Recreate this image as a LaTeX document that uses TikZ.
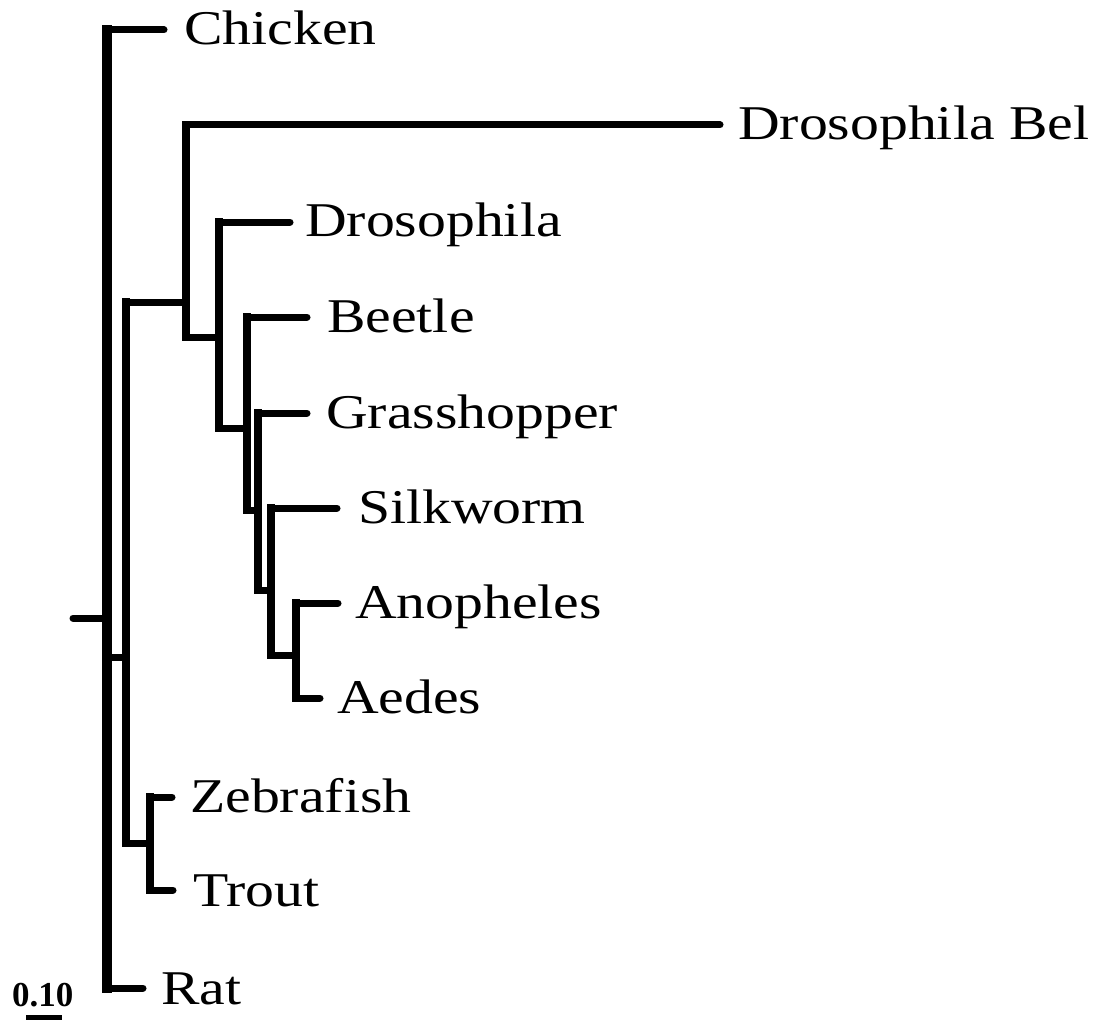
\documentclass[tikz,border=0pt]{standalone}
\usepackage{fontspec}
\setmainfont{Liberation Serif}
\newcommand\stretchlbl[1]{\scalebox{1.19}[1]{#1}}
\begin{document}
\begin{tikzpicture}[x=1pt,y=-1pt,
  vl/.style={line width=8.5pt, line cap=rect},
  mainvl/.style={line width=10pt, line cap=rect},
  hl/.style={line width=7pt, line cap=round},
  taxon/.style={anchor=base west, inner sep=0pt, font=\fontsize{48.5}{58}\selectfont}]
\useasboundingbox (0,0) rectangle (1099,1019);
% internal nodes
\coordinate (root) at (73,618);
\coordinate (n1) at (107,618);
\coordinate (n2) at (126,657);
\coordinate (n3) at (186,302);
\coordinate (n4) at (219,337);
\coordinate (n5) at (247,428);
\coordinate (n6) at (258,510);
\coordinate (n7) at (271,590);
\coordinate (n8) at (296,655);
\coordinate (n9) at (150,843);
% leaf branch ends
\coordinate (eChicken) at (164,30);
\coordinate (eDBel) at (720,125);
\coordinate (eDros) at (290,222);
\coordinate (eBeetle) at (307,317);
\coordinate (eGrass) at (307,413);
\coordinate (eSilk) at (337,508);
\coordinate (eAnoph) at (338,603);
\coordinate (eAedes) at (320,698);
\coordinate (eZebra) at (172,797);
\coordinate (eTrout) at (173,890);
\coordinate (eRat) at (143,988);
% labels
\node[taxon] (Chicken) at (184,45) {\stretchlbl{Chicken}};
\node[taxon] (DBel) at (738,140) {\stretchlbl{Drosophila Bel}};
\node[taxon] (Dros) at (305,236) {\stretchlbl{Drosophila}};
\node[taxon] (Beetle) at (327,332) {\stretchlbl{Beetle}};
\node[taxon] (Grass) at (326,428) {\stretchlbl{Grasshopper}};
\node[taxon] (Silk) at (358,523) {\stretchlbl{Silkworm}};
\node[taxon] (Anoph) at (355,618) {\stretchlbl{Anopheles}};
\node[taxon] (Aedes) at (337,713) {\stretchlbl{Aedes}};
\node[taxon] (Zebra) at (190,812) {\stretchlbl{Zebrafish}};
\node[taxon] (Trout) at (193,906) {\stretchlbl{Trout}};
\node[taxon] (Rat) at (161,1004) {\stretchlbl{Rat}};
% root
\draw[hl] (root) -- (n1);
% n1: Chicken, n2, Rat
\draw[mainvl] (n1 |- eChicken) -- (n1 |- eRat);
\draw[hl] (n1 |- eChicken) -- (eChicken);
\draw[hl] (n1 |- eRat) -- (eRat);
\draw[hl] (n1 |- n2) -- (n2);
% n2: n3, n9
\draw[vl] (n2 |- n3) -- (n2 |- n9);
\draw[hl] (n2 |- n3) -- (n3);
\draw[hl] (n2 |- n9) -- (n9);
% n3: Drosophila Bel, n4
\draw[vl] (n3 |- eDBel) -- (n3 |- n4);
\draw[hl] (n3 |- eDBel) -- (eDBel);
\draw[hl] (n3 |- n4) -- (n4);
% n4: Drosophila, n5
\draw[vl] (n4 |- eDros) -- (n4 |- n5);
\draw[hl] (n4 |- eDros) -- (eDros);
\draw[hl] (n4 |- n5) -- (n5);
% n5: Beetle, n6
\draw[vl] (n5 |- eBeetle) -- (n5 |- n6);
\draw[hl] (n5 |- eBeetle) -- (eBeetle);
\draw[hl] (n5 |- n6) -- (n6);
% n6: Grasshopper, n7
\draw[vl] (n6 |- eGrass) -- (n6 |- n7);
\draw[hl] (n6 |- eGrass) -- (eGrass);
\draw[hl] (n6 |- n7) -- (n7);
% n7: Silkworm, n8
\draw[vl] (n7 |- eSilk) -- (n7 |- n8);
\draw[hl] (n7 |- eSilk) -- (eSilk);
\draw[hl] (n7 |- n8) -- (n8);
% n8: Anopheles, Aedes
\draw[vl] (n8 |- eAnoph) -- (n8 |- eAedes);
\draw[hl] (n8 |- eAnoph) -- (eAnoph);
\draw[hl] (n8 |- eAedes) -- (eAedes);
% n9: Zebrafish, Trout
\draw[vl] (n9 |- eZebra) -- (n9 |- eTrout);
\draw[hl] (n9 |- eZebra) -- (eZebra);
\draw[hl] (n9 |- eTrout) -- (eTrout);
% scale bar
\node[anchor=base west, inner sep=0pt, font=\fontsize{35}{40}\selectfont\bfseries] (scale) at (12,1006) {0.10};
\fill (26,1015) rectangle (62,1021);
\end{tikzpicture}
\end{document}
